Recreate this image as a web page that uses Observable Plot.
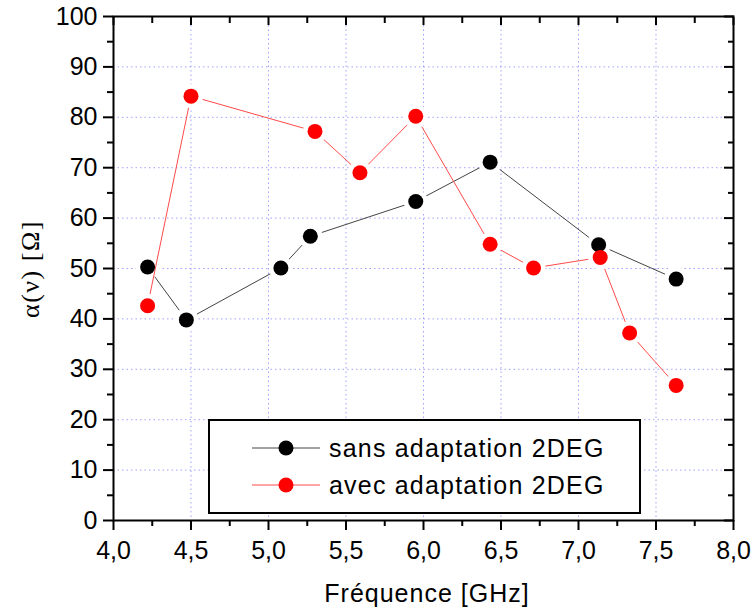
<!DOCTYPE html>
<html>
<head>
<meta charset="utf-8">
<script src="https://cdn.jsdelivr.net/npm/d3@7"></script>
<script src="https://cdn.jsdelivr.net/npm/@observablehq/plot@0.6"></script>
<style>
  html, body { margin: 0; padding: 0; background: white; }
  #wrap { position: relative; width: 751px; height: 616px; }
  #wrap svg { position: absolute; left: 0; top: 0; }
  #wrap svg.chart text { font-size: 25px; font-family: 'Liberation Sans', Arial, sans-serif; }
</style>
</head>
<body>
<div id="wrap"></div>
<script>
// ---- data ----
const seriesNames = ["sans adaptation 2DEG", "avec adaptation 2DEG"];
const freqSans  = [4.22, 4.47, 5.08, 5.27, 5.95, 6.43, 7.13, 7.63];
const alphaSans = [50.3, 39.8, 50.1, 56.4, 63.3, 71.1, 54.7, 47.9];
const freqAvec  = [4.22, 4.50, 5.30, 5.59, 5.95, 6.43, 6.71, 7.14, 7.33, 7.63];
const alphaAvec = [42.6, 84.2, 77.2, 69.0, 80.2, 54.8, 50.1, 52.2, 37.2, 26.8];
const xTicks = [4.0, 4.5, 5.0, 5.5, 6.0, 6.5, 7.0, 7.5, 8.0];
const xMinorTicks = [4.25, 4.75, 5.25, 5.75, 6.25, 6.75, 7.25, 7.75];
const yTicks = [0, 10, 20, 30, 40, 50, 60, 70, 80, 90, 100];
const yMinorTicks = [5, 15, 25, 35, 45, 55, 65, 75, 85, 95];
const xTitle = "Fréquence [GHz]";
const yTitle = "α(ν) [Ω]";

const sans = freqSans.map((f, i) => ({f, a: alphaSans[i]}));
const avec = freqAvec.map((f, i) => ({f, a: alphaAvec[i]}));

const fmt = d => d.toFixed(1).replace(".", ",");
const gridStyle = {stroke: "#7070ff", strokeOpacity: 0.65, strokeWidth: 1, strokeDasharray: "1.5,3"};

const chart = Plot.plot({
  width: 751, height: 616,
  marginLeft: 113, marginRight: 18, marginTop: 16, marginBottom: 96,
  x: {domain: [4, 8]},
  y: {domain: [0, 100]},
  style: {fontFamily: "'Liberation Sans', Arial, sans-serif", fontSize: "25px", color: "black", background: "white", overflow: "visible"},
  marks: [
    Plot.gridX(xTicks.slice(1, -1), gridStyle),
    Plot.gridY(yTicks.slice(1, -1), gridStyle),
    Plot.axisX(xTicks, {tickSize: 10, tickPadding: 11, tickFormat: fmt, strokeWidth: 2, label: null}),
    Plot.axisX(xMinorTicks, {tickSize: 6, text: null, strokeWidth: 2, label: null}),
    Plot.axisX(xTicks, {anchor: "top", tickSize: -8, text: null, strokeWidth: 2, label: null}),
    Plot.axisX(xMinorTicks, {anchor: "top", tickSize: -6, text: null, strokeWidth: 2, label: null}),
    Plot.axisY(yTicks, {tickSize: 10, tickPadding: 6, strokeWidth: 2, label: null}),
    Plot.axisY(yMinorTicks, {tickSize: 6, text: null, strokeWidth: 2, label: null}),
    Plot.axisY(yTicks, {anchor: "right", tickSize: -10, text: null, strokeWidth: 2, label: null}),
    Plot.axisY(yMinorTicks, {anchor: "right", tickSize: -6, text: null, strokeWidth: 2, label: null}),
    Plot.frame({stroke: "black", strokeWidth: 2}),
    Plot.line(sans, {x: "f", y: "a", stroke: "#444", strokeWidth: 1}),
    Plot.dot(sans, {x: "f", y: "a", r: 12, fill: "white"}),
    Plot.line(avec, {x: "f", y: "a", stroke: "#ff4a4a", strokeWidth: 1}),
    Plot.dot(avec, {x: "f", y: "a", r: 12, fill: "white"}),
    Plot.dot(sans, {x: "f", y: "a", r: 7.5, fill: "black"}),
    Plot.dot(avec, {x: "f", y: "a", r: 7.5, fill: "#ff0000"})
  ]
});
chart.classList.add("chart");
document.getElementById("wrap").appendChild(chart);

// ---- overlay: axis titles and legend ----
const ov = d3.select("#wrap").append("svg")
  .attr("width", 751).attr("height", 616)
  .style("pointer-events", "none");

ov.append("text")
  .attr("x", 427).attr("y", 602)
  .attr("text-anchor", "middle")
  .style("font-family", "'Liberation Sans', Arial, sans-serif")
  .style("font-size", "25px")
  .style("letter-spacing", "1px")
  .text(xTitle);

ov.append("text")
  .attr("transform", "translate(39,269) rotate(-90)")
  .attr("text-anchor", "middle")
  .style("font-family", "'Liberation Serif', 'Times New Roman', serif")
  .style("font-size", "26px")
  .style("letter-spacing", "1.5px")
  .text(yTitle);

const lg = ov.append("g");
lg.append("rect")
  .attr("x", 209).attr("y", 420).attr("width", 431).attr("height", 93)
  .attr("fill", "white").attr("stroke", "black").attr("stroke-width", 2);
const legendColors = [{line: "#444", dot: "black"}, {line: "#ff4a4a", dot: "#ff0000"}];
seriesNames.forEach((name, i) => {
  const cy = 448 + i * 37;
  lg.append("line").attr("x1", 252).attr("x2", 320).attr("y1", cy).attr("y2", cy)
    .attr("stroke", legendColors[i].line).attr("stroke-width", 1);
  lg.append("circle").attr("cx", 286).attr("cy", cy).attr("r", 7.5).attr("fill", legendColors[i].dot);
  lg.append("text").attr("x", 329).attr("y", cy + 8.5)
    .style("font-family", "'Liberation Sans', Arial, sans-serif")
    .style("font-size", "25px")
    .style("letter-spacing", "1.2px")
    .text(name);
});
</script>
</body>
</html>
